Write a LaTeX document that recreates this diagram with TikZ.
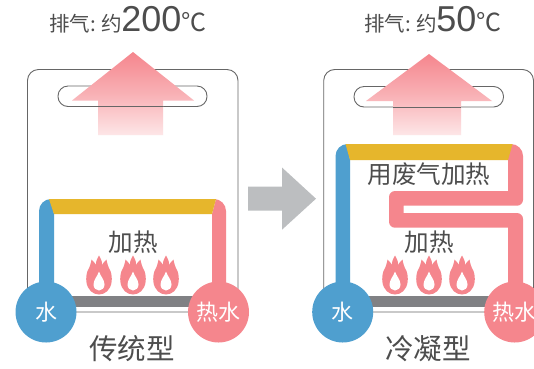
\documentclass[tikz,border=0pt]{standalone}
\usepackage{fontspec}
\setmainfont{Noto Sans CJK SC}
\newfontfamily\latinf{Liberation Sans}
\definecolor{pipeblue}{HTML}{4F9FCF}
\definecolor{pipepink}{HTML}{F5868D}
\definecolor{pipeyellow}{HTML}{E6B62C}
\definecolor{bargray}{HTML}{808184}
\definecolor{arrowgray}{HTML}{BCBEC0}
\definecolor{txt}{HTML}{4D4D4D}
\definecolor{edgegray}{HTML}{666666}
\definecolor{fadepink}{HTML}{FDE6E7}
\tikzset{
  panel/.style={draw=edgegray,line width=.9pt,rounded corners=11pt,fill=white},
  slot/.style={draw=edgegray,line width=.9pt,rounded corners=10pt,fill=white},
  ball/.style={circle,minimum size=61pt,inner sep=0pt,text=white,font=\fontsize{22}{22}\selectfont},
  label/.style={text=txt,inner sep=0pt},
  lab24/.style={label,font=\fontsize{24.6}{24.6}\selectfont},
  lab28/.style={label,font=\fontsize{28.5}{28.5}\selectfont},
  flame/.pic={
    \fill[pipepink] (0,19.5) .. controls (1.5,17) and (3,14.5) .. (3.2,10) .. controls (4,11.5) and (5,13.5) .. (7.5,15.5)
      .. controls (8,12) and (9.5,7) .. (11.5,4) .. controls (12.8,0) and (13,-3) .. (12.6,-7)
      .. controls (11.5,-15) and (6,-19.5) .. (0,-19.5) .. controls (-6,-19.5) and (-11.5,-15) .. (-12.6,-7)
      .. controls (-13,-3) and (-12.8,0) .. (-11.5,4) .. controls (-9.5,7) and (-8,12) .. (-7.5,15.5) .. controls (-5,13.5) and (-4,11.5) .. (-3.2,10)
      .. controls (-3,14.5) and (-1.5,17) .. (0,19.5) -- cycle;
    \fill[white] (0,3.5) .. controls (1.5,-1) and (5.5,-5) .. (5.5,-9.5) .. controls (5.5,-13) and (3,-15.5) .. (0,-15.5)
      .. controls (-3,-15.5) and (-5.5,-13) .. (-5.5,-9.5) .. controls (-5.5,-5) and (-1.5,-1) .. (0,3.5) -- cycle;
  }
}
\newcommand{\exhaust}[1]{\fontsize{20.5}{20.5}\selectfont 排气: 约\hspace{-1pt}{\latinf\fontsize{36}{36}\selectfont #1}\hspace{.5pt}{\fontsize{25}{25}\selectfont ℃}}
\begin{document}
\begin{tikzpicture}[x=1pt,y=-1pt]
\useasboundingbox (0,0) rectangle (534,368);
% ---------- left panel
\draw[panel] (27.5,69.5) rectangle (238,312);
\draw[slot] (58,86) rectangle (207,106.5);
\shade[top color=pipepink,bottom color=fadepink,middle color=pipepink!65!white]
  (133,52) -- (194,100.5) -- (163,100.5) -- (163,135) -- (98,135) -- (98,100.5) -- (72,100.5) -- cycle;
\draw[edgegray,line width=.9pt] (98,106.5) -- (163,106.5);
\fill[bargray] (70,296) rectangle (195,307);
\fill[pipepink] (212,300) -- (212,214) -- (216,199) -- (214,199) arc[start angle=-90,end angle=0,radius=12] -- (226,300) -- cycle;
\fill[pipeblue] (39,300) -- (39,211) arc[start angle=180,end angle=270,radius=12] -- (54,214) -- (54,300) -- cycle;
\fill[pipeyellow] (49,199) -- (216,199) -- (212,214) -- (54,214) -- cycle;
\node[ball,fill=pipeblue] (waterL) at (46,312) {水};
\node[ball,fill=pipepink] (hotL) at (218.5,312) {热水};
\node[lab24] (heatL) at (133,242) {加热};
\pic[yscale=-1] at (99,275) {flame};
\pic[yscale=-1] at (133,275) {flame};
\pic[yscale=-1] at (166,275) {flame};
\node[lab28] (typeL) at (132,349) {传统型};
\node[label] (exL) at (128,20) {\exhaust{200}};
% ---------- arrow between panels
\fill[arrowgray] (248,186.5) -- (282,186.5) -- (282,167.5) -- (316,198.7) -- (282,229.7) -- (282,210.7) -- (248,210.7) -- cycle;
% ---------- right panel
\draw[panel] (323.7,69.5) rectangle (533.5,312);
\draw[slot] (354,86.5) rectangle (503.5,107);
\shade[top color=pipepink,bottom color=fadepink,middle color=pipepink!65!white]
  (429,54) -- (492,101) -- (461,101) -- (461,135) -- (393,135) -- (393,101) -- (366,101) -- cycle;
\draw[edgegray,line width=.9pt] (393,107) -- (461,107);
\fill[bargray] (366,296) rectangle (490,307);
\fill[pipepink] (523,300) -- (523,219) arc[start angle=0,end angle=-90,radius=6] -- (403.7,213) -- (403.7,205.7) -- (517,205.7) arc[start angle=90,end angle=0,radius=6]
  -- (523,156) arc[start angle=0,end angle=-90,radius=12] -- (508,144) -- (508,191) -- (395,191) arc[start angle=-90,end angle=-180,radius=6]
  -- (389,221.7) arc[start angle=180,end angle=90,radius=6] -- (508,227.7) -- (508,300) -- cycle;
\fill[pipeblue] (335.5,300) -- (335.5,156) arc[start angle=180,end angle=270,radius=12] -- (350,160) -- (350,300) -- cycle;
\fill[pipeyellow] (345.5,144) -- (512.5,144) -- (508,160) -- (350,160) -- cycle;
\node[ball,fill=pipeblue] (waterR) at (342.7,312) {水};
\node[ball,fill=pipepink] (hotR) at (514.7,312) {热水};
\node[lab24] (wasteR) at (429,174) {用废气加热};
\node[lab24] (heatR) at (429,242) {加热};
\pic[yscale=-1] at (395,275) {flame};
\pic[yscale=-1] at (429,275) {flame};
\pic[yscale=-1] at (462,275) {flame};
\node[lab28] (typeR) at (428,349) {冷凝型};
\node[label] (exR) at (433,20) {\exhaust{50}};
\end{tikzpicture}
\end{document}
